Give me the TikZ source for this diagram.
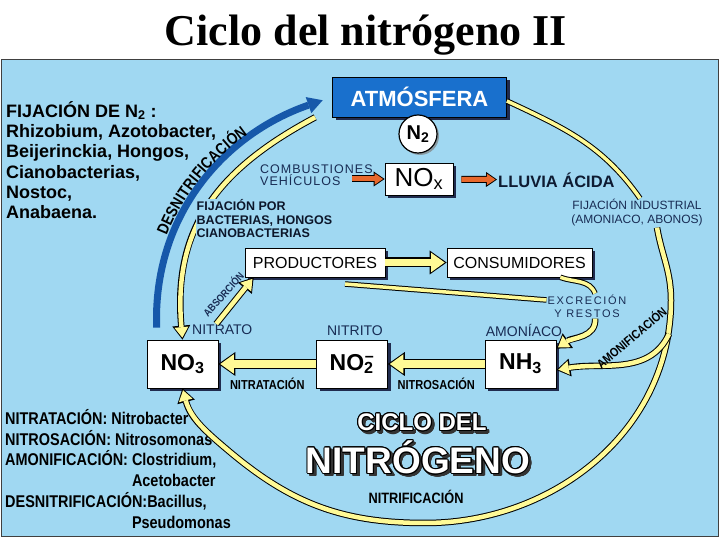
\documentclass[tikz,border=0pt]{standalone}
\usepackage{fontspec}
\setmainfont{Liberation Sans}
\newfontfamily\titlefont{Liberation Serif}
\newfontfamily\narrowfont[FakeStretch=0.85]{Liberation Sans}
\usepackage{contour}
\contourlength{1pt}
\usetikzlibrary{arrows.meta,shadows,decorations.text}

\definecolor{sky}{RGB}{160,216,242}
\definecolor{yell}{RGB}{255,250,150}
\definecolor{atmblue}{RGB}{25,112,205}
\definecolor{arcblue}{RGB}{22,88,170}
\definecolor{orng}{RGB}{232,104,44}
\definecolor{navy}{RGB}{24,44,84}

\newcommand{\fsz}[2]{\fontsize{#1}{#2}\selectfont}
\newcommand{\desfont}{\narrowfont\bfseries\fsz{16}{16}}
\newcommand{\embossed}[1]{\makebox[0pt][l]{\hspace*{2.5pt}\raisebox{-2.5pt}{\contour{black!80}{\textcolor{black!80}{#1}}}}\contour{black}{\textcolor{white}{#1}}}

\begin{document}
\begin{tikzpicture}[x=1pt, y=1pt,
    box/.style={draw=black, fill=white, line width=0.7pt, inner sep=0pt,
        drop shadow={shadow xshift=3pt, shadow yshift=-3pt, fill=black!85!blue, opacity=0.8}},
    chembox/.style={box, minimum width=71pt, minimum height=48pt, font=\bfseries\fsz{23}{26}},
    orgbox/.style={box, minimum height=29pt, font=\fsz{16}{18}},
    chem/.style={font=\fsz{14}{16}, text=navy, inner sep=1pt},
    tag/.style={font=\narrowfont\bfseries\fsz{13}{15}, inner sep=1pt},
    note/.style={font=\fsz{12}{14}, text=navy, align=center, inner sep=1pt},
    yflow/.style={preaction={draw=black, line width=6.5pt, shorten >=0pt,
            -{Triangle[width=18pt,length=14pt,line width=0pt]}},
        draw=yell, line width=4.5pt, shorten >=2pt,
        -{Triangle[width=14pt,length=10.5pt,line width=0pt]}},
    ybig/.style={preaction={draw=black, line width=10pt, shorten >=0pt,
            -{Triangle[width=24pt,length=17pt,line width=0pt]}},
        draw=yell, line width=7.5pt, shorten >=2pt,
        -{Triangle[width=19.5pt,length=13.5pt,line width=0pt]}},
    yline/.style={preaction={draw=black, line width=5.5pt}, draw=yell, line width=3.5pt},
    oflow/.style={preaction={draw=black, line width=7pt, shorten >=0pt,
            -{Triangle[width=15pt,length=11pt,line width=0pt]}},
        draw=orng, line width=5pt, shorten >=1.6pt,
        -{Triangle[width=11.5pt,length=8.5pt,line width=0pt]}},
    barrow/.style={draw=arcblue, line width=7pt, shorten >=10pt,
        -{Triangle[width=17pt,length=15pt,line width=0pt]}}
]
    \useasboundingbox (0,0) rectangle (720,540);

    % title and panel
    \node[anchor=base, font=\titlefont\bfseries\fsz{44}{44}] (title) at (366,494) {Ciclo del nitrógeno II};
    \draw[fill=sky, draw=black!75, line width=1pt] (1.5,3) rectangle (718.5,480);

    % atmosphere
    \node[box, fill=atmblue, minimum width=174pt, minimum height=40pt, text=white,
        font=\bfseries\fsz{22}{24}] (atm) at (419.5,443) {ATMÓSFERA};
    \node[circle, draw, fill=white, line width=1.2pt, minimum size=38pt, inner sep=0pt,
        drop shadow={shadow xshift=2pt, shadow yshift=-2pt, opacity=0.7},
        font=\bfseries\fsz{20}{20}] (n2) at (418,406) {N\textsubscript{2}};
    \node[note, anchor=west, align=left, font=\fsz{12.5}{12}\addfontfeatures{LetterSpace=8}] (comb) at (259,365) {COMBUSTIONES\\VEHÍCULOS};
    \coordinate (veh) at (352,361);
    \node[box, minimum width=68pt, minimum height=32pt, font=\fsz{26}{26}] (nox) at (419,361) {NO\textsubscript{x}};
    \node[anchor=west, font=\bfseries\fsz{16.5}{18}, text=navy!60!black, inner sep=1pt] (lluvia) at (497,360) {LLUVIA ÁCIDA};
    \node[note] (fijind) at (637,327) {FIJACIÓN INDUSTRIAL\\(AMONIACO, ABONOS)};

    % side texts
    \node[anchor=north west, align=left, font=\bfseries\fsz{18}{20.3}, inner sep=0pt] (fijn2) at (6,439)
        {FIJACIÓN DE N\textsubscript{2} :\\Rhizobium, Azotobacter,\\Beijerinckia, Hongos,\\Cianobacterias,\\Nostoc,\\Anabaena.};

    % organisms
    \node[orgbox, minimum width=140pt] (prod) at (315,277.5) {PRODUCTORES};
    \node[orgbox, minimum width=145pt] (cons) at (519.5,277.5) {CONSUMIDORES};
    \node[note, font=\fsz{11}{13}\addfontfeatures{LetterSpace=15}] (exc) at (587,234) {EXCRECIÓN\\Y RESTOS};
    \coordinate (rest) at (345,256);

    % nitrogen compounds
    \node[chem, anchor=west] (nitrato) at (191,210) {NITRATO};
    \node[chem] (nitrito) at (355,209) {NITRITO};
    \node[chem] (amoniaco) at (524,209) {AMONÍACO};
    \node[chembox] (no3) at (182.5,176) {NO\textsubscript{3}};
    \node[chembox] (no2) at (352,176) {NO\textsubscript{2}\hspace{-0.5em}\textsuperscript{\,--}};
    \node[chembox] (nh3) at (520.5,176) {NH\textsubscript{3}};

    % cycle labels
    \node[font=\bfseries\fsz{24}{24}] (ciclo) at (422,116) {\embossed{CICLO DEL}};
    \node[font=\bfseries\fsz{37}{37}] (nitrog) at (418,81) {\embossed{NITRÓGENO}};
    \node[tag, font=\narrowfont\bfseries\fsz{15}{15}] (nitrif) at (416,43) {NITRIFICACIÓN};
    \node[anchor=north west, align=left, font=\narrowfont\bfseries\fsz{17}{20.8}, inner sep=0pt] (micro) at (5,131)
        {NITRATACIÓN: Nitrobacter\\NITROSACIÓN: Nitrosomonas\\AMONIFICACIÓN: Clostridium,\\\phantom{AMONIFICACIÓN: }Acetobacter\\DESNITRIFICACIÓN:Bacillus,\\\phantom{AMONIFICACIÓN: }Pseudomonas};

    % arcs
    \coordinate (arcR) at (671,240);
    \coordinate (arcB) at (425,17);
    \coordinate (arcL) at (230,88);
    \coordinate (amon) at (669,206);
    \draw[barrow] ([shift={(10pt,12pt)}]no3.north west) to[out=92,in=199] (atm.west);
    \path[decorate, decoration={text along path, text align=center, raise=5pt,
        text={|\desfont|DESNITRIFICACIÓN}}]
        ([shift={(10pt,12pt)}]no3.north west) to[out=92,in=199] (atm.west);
    \draw[yflow] ([xshift=-17pt]atm.south west) to[out=208,in=95,looseness=1.1] (no3.north);
    \node[anchor=north west, align=left, fill=sky, font=\bfseries\fsz{12.5}{13.5}, text=navy!50!black, inner sep=0.5pt] (fijpor) at (196,341)
        {FIJACIÓN POR\\BACTERIAS, HONGOS\\CIANOBACTERIAS};
    \draw[yline] ([yshift=-4pt]atm.east) to[out=-25,in=125] ([xshift=3pt]fijind.north);
    \draw[yflow] ([xshift=20pt]fijind.south) to[out=-80,in=90] (arcR) to[out=-90,in=0] (arcB)
        to[out=180,in=-40] (arcL) to[out=140,in=-75] (no3.south);
    \draw[yflow] (amon) to[out=-115,in=10] ([yshift=-6pt]nh3.east);
    \node[tag, font=\narrowfont\bfseries\fsz{12.5}{12.5}, rotate=40] (amonif) at (631,203) {AMONIFICACIÓN};

    % flows between boxes
    \draw[oflow] (veh) -- (nox);
    \draw[oflow, shorten <=8pt] (nox) -- (lluvia);
    \draw[ybig] (prod) -- (cons);
    \draw[yline] (rest) -- ([yshift=6pt]exc.west);
    \draw[yline] ([xshift=-32pt]cons.south east) to[out=-20,in=110] ([xshift=8pt]exc.north);
    \draw[yflow] ([xshift=8pt]exc.south) to[out=-85,in=35] ([yshift=-9pt]nh3.north east);
    \draw[yflow] ([xshift=-6pt]nitrato.north) -- ([xshift=9pt]prod.south west);
    \node[font=\narrowfont\bfseries\fsz{10.5}{11}, text=navy, rotate=48] (absorc) at (223,246) {ABSORCIÓN};
    \draw[ybig] (nh3) -- (no2) node[midway, below=9pt, tag] (nitros) {NITROSACIÓN};
    \draw[ybig] (no2) -- (no3) node[midway, below=9pt, tag] (nitrat) {NITRATACIÓN};
\end{tikzpicture}
\end{document}
